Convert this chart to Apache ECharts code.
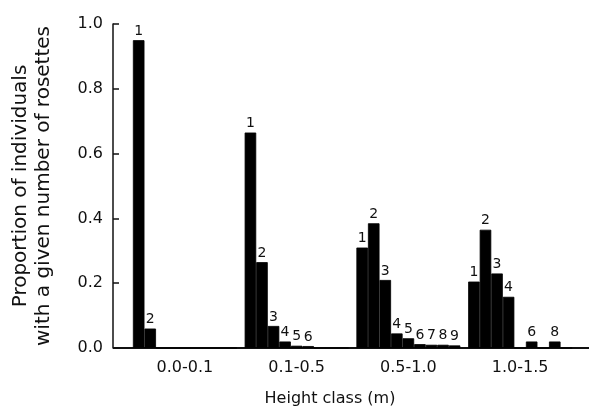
<!DOCTYPE html>
<html>
<head>
<meta charset="utf-8">
<script src="https://cdn.jsdelivr.net/npm/echarts@6/dist/echarts.min.js"></script>
<style>
  html, body { margin: 0; padding: 0; background: #fff; }
  #chart { width: 589px; height: 413px; }
</style>
</head>
<body>
<div id="chart"></div>
<script>
// height classes on the x axis
const heightClasses = ['0.0-0.1', '0.1-0.5', '0.5-1.0', '1.0-1.5']
// number of rosettes (one series each)
const rosetteCounts = ['1', '2', '3', '4', '5', '6', '7', '8', '9']
// proportion of individuals, one row per height class
const class00to01 = [0.95, 0.06, 0, 0, 0, 0, 0, 0, 0]
const class01to05 = [0.665, 0.265, 0.068, 0.02, 0.007, 0.006, 0, 0, 0]
const class05to10 = [0.31, 0.385, 0.21, 0.045, 0.03, 0.012, 0.01, 0.01, 0.008]
const class10to15 = [0.205, 0.365, 0.23, 0.158, 0, 0.02, 0, 0.02, 0]
const yTicks = [0, 0.2, 0.4, 0.6, 0.8, 1.0]

const rows = [class00to01, class01to05, class05to10, class10to15]
const font = 'DejaVu Sans'
const ink = '#111'

const chart = echarts.init(document.getElementById('chart'))

// 一个系列 = 一种莲座数
const series = rosetteCounts.map((name, i) => ({
  name: name,
  type: 'bar',
  data: rows.map(r => r[i]),
  barGap: '0%',
  barCategoryGap: '7%',
  itemStyle: { color: '#000', borderColor: '#000', borderWidth: 0.8 },
  label: {
    show: true,
    position: 'top',
    distance: 2,
    color: ink,
    fontFamily: font,
    fontSize: 14,
    formatter: p => (p.value > 0 ? p.seriesName : '')
  }
}))

chart.setOption({
  animation: false,
  backgroundColor: '#fff',
  title: {
    text: 'Height class (m)',
    left: 325,
    top: 386,
    textAlign: 'center',
    textStyle: { fontFamily: font, fontSize: 16, fontWeight: 'normal', color: ink }
  },
  grid: { left: 129, right: 13, top: 24, bottom: 65 },
  xAxis: {
    type: 'category',
    data: heightClasses,
    axisLine: { show: false },
    axisTick: { show: false },
    axisLabel: { margin: 12, color: ink, fontFamily: font, fontSize: 16 }
  },
  yAxis: {
    type: 'value',
    min: yTicks[0],
    max: yTicks[yTicks.length - 1],
    interval: 0.2,
    offset: 16,
    name: 'Proportion of individuals\nwith a given number of rosettes',
    nameLocation: 'middle',
    nameGap: 58,
    nameTextStyle: { fontFamily: font, fontSize: 20, lineHeight: 23, color: ink },
    splitLine: { show: false },
    axisLine: { show: true, lineStyle: { color: ink, width: 1.5 } },
    axisTick: { show: true, inside: true, length: 6, lineStyle: { color: ink, width: 1.5 } },
    axisLabel: {
      margin: 10,
      color: ink,
      fontFamily: font,
      fontSize: 16,
      formatter: v => v.toFixed(1)
    }
  },
  series: series
})

// 底线：从y轴一直画到右边
const y0 = chart.convertToPixel({ yAxisIndex: 0 }, 0)
chart.setOption({
  graphic: [{
    type: 'line',
    z: -1,
    shape: { x1: 113, y1: y0, x2: 589, y2: y0 },
    style: { stroke: ink, lineWidth: 2 }
  }]
})
</script>
</body>
</html>
